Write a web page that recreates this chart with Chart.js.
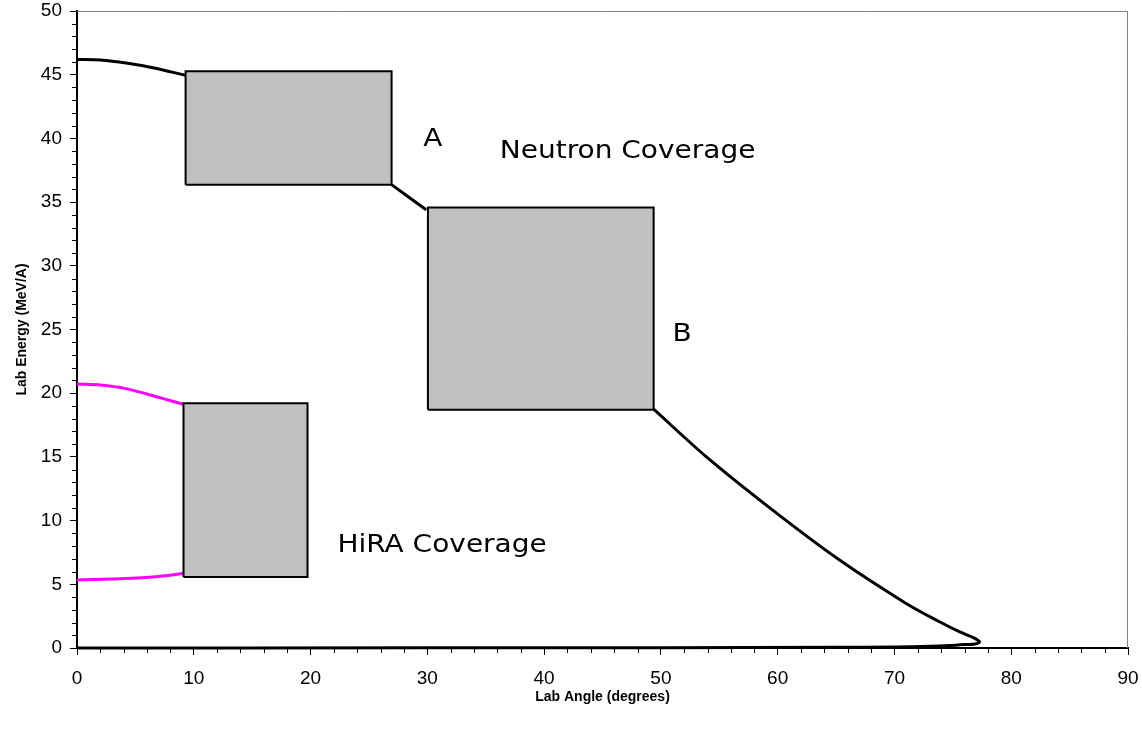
<!DOCTYPE html>
<html>
<head>
<meta charset="utf-8">
<script src="https://cdn.jsdelivr.net/npm/chart.js@4/dist/chart.umd.min.js"></script>
<style>
  html, body { margin: 0; padding: 0; background: #fff; }
  #wrap { width: 1142px; height: 730px; position: relative; }
</style>
</head>
<body>
<div id="wrap"><canvas id="kin"></canvas></div>
<script>
// neutron kinematic line (lab angle in degrees, lab energy in MeV/A), split where it runs under the boxes
const neutronAngle1  = [0, 2, 4.2, 6.5, 9.3];
const neutronEnergy1 = [46.2, 46.15, 45.92, 45.55, 44.95];
const neutronAngle2  = [26.94, 29.9];
const neutronEnergy2 = [36.37, 34.4];
const neutronAngle3  = [49.38, 53.9, 59.6, 65.3, 71.0, 73.9, 75.6, 76.8, 77.3, 76.9, 75.6, 74.7, 73, 70, 65, 50, 30, 0];
const neutronEnergy3 = [18.75, 15.0, 10.8, 6.9, 3.5, 2.04, 1.26, 0.8, 0.47, 0.32, 0.25, 0.19, 0.13, 0.08, 0.05, 0.02, 0.01, 0];

// HiRA kinematic lines (magenta)
const hiraUpperAngle  = [0, 2, 4.2, 7.1, 9.1];
const hiraUpperEnergy = [20.72, 20.65, 20.36, 19.65, 19.13];
const hiraLowerAngle  = [0, 4.2, 7.0, 9.1];
const hiraLowerEnergy = [5.34, 5.45, 5.62, 5.84];

// coverage boxes [min, max]
const boxA_angle  = [9.3, 26.94];
const boxA_energy = [36.37, 45.27];
const boxB_angle  = [30.05, 49.38];
const boxB_energy = [18.71, 34.57];
const hira_angle  = [9.12, 19.74];
const hira_energy = [5.57, 19.21];

const xTicks = [0, 10, 20, 30, 40, 50, 60, 70, 80, 90];
const yTicks = [0, 5, 10, 15, 20, 25, 30, 35, 40, 45, 50];

const pts = (xs, ys) => xs.map((x, i) => ({x, y: ys[i]}));
const box = (xs, ys) => [
  {x: xs[0], y: ys[0]}, {x: xs[1], y: ys[0]}, {x: xs[1], y: ys[1]},
  {x: xs[0], y: ys[1]}, {x: xs[0], y: ys[0]}
];

const boxStyle = {
  showLine: true, fill: 'shape', backgroundColor: '#c0c0c0',
  borderColor: '#000', borderWidth: 2, pointRadius: 0, tension: 0, clip: false
};
const lineStyle = (c) => ({showLine: true, borderColor: c, borderWidth: 3, pointRadius: 0, tension: 0.3, clip: 3});

// free text labels, drawn in data coordinates
const notes = [
  {text: 'A', x: 29.65, y: 39.38},
  {text: 'Neutron Coverage', x: 36.2, y: 38.46},
  {text: 'B', x: 51.0, y: 24.1},
  {text: 'HiRA Coverage', x: 22.3, y: 7.54}
];

const decor = {
  id: 'decor',
  afterDraw(chart) {
    const {ctx, chartArea: a, scales: {x, y}} = chart;
    ctx.save();
    // thin grey frame on top and right
    ctx.strokeStyle = '#808080';
    ctx.lineWidth = 1;
    ctx.beginPath();
    ctx.moveTo(a.left, a.top + 0.5);
    ctx.lineTo(a.right - 0.5, a.top + 0.5);
    ctx.lineTo(a.right - 0.5, a.bottom);
    ctx.stroke();
    // minor ticks
    ctx.strokeStyle = '#000';
    ctx.beginPath();
    for (let v = 2; v < 90; v += 2) {
      if (v % 10 === 0) continue;
      const px = Math.round(x.getPixelForValue(v)) + 0.5;
      ctx.moveTo(px, a.bottom); ctx.lineTo(px, a.bottom + 5);
    }
    for (let v = 1; v < 50; v += 1) {
      if (v % 5 === 0) continue;
      const py = Math.round(y.getPixelForValue(v)) + 0.5;
      ctx.moveTo(a.left, py); ctx.lineTo(a.left - 5, py);
    }
    ctx.stroke();
    // annotations
    ctx.fillStyle = '#000';
    ctx.font = '25px "DejaVu Sans"';
    ctx.textBaseline = 'alphabetic';
    for (const n of notes) {
      const px = x.getPixelForValue(n.x), py = y.getPixelForValue(n.y);
      ctx.save();
      ctx.translate(px, py);
      ctx.scale(1.12, 1);
      ctx.fillText(n.text, 0, 0);
      ctx.restore();
    }
    ctx.restore();
  }
};

new Chart(document.getElementById('kin'), {
  type: 'scatter',
  data: {
    datasets: [
      {data: box(boxA_angle, boxA_energy), ...boxStyle},
      {data: box(boxB_angle, boxB_energy), ...boxStyle},
      {data: box(hira_angle, hira_energy), ...boxStyle},
      {data: pts(neutronAngle1, neutronEnergy1), ...lineStyle('#000')},
      {data: pts(neutronAngle2, neutronEnergy2), ...lineStyle('#000')},
      {data: pts(neutronAngle3, neutronEnergy3), ...lineStyle('#000')},
      {data: pts(hiraUpperAngle, hiraUpperEnergy), ...lineStyle('#ff00ff')},
      {data: pts(hiraLowerAngle, hiraLowerEnergy), ...lineStyle('#ff00ff')}
    ]
  },
  options: {
    responsive: true,
    maintainAspectRatio: false,
    animation: false,
    layout: {padding: {top: 11, right: 14, left: 0, bottom: 0}},
    plugins: {legend: {display: false}, tooltip: {enabled: false}},
    scales: {
      x: {
        type: 'linear', min: 0, max: 90,
        afterBuildTicks: s => { s.ticks = xTicks.map(v => ({value: v})); },
        afterFit: s => { s.height = 82; s.paddingRight = 0; s.paddingLeft = 0; },
        grid: {drawOnChartArea: false, tickLength: 7, tickColor: '#000'},
        border: {color: '#000', width: 2},
        ticks: {color: '#000', font: {family: 'Liberation Sans', size: 19}, padding: 12, maxRotation: 0},
        title: {display: true, text: 'Lab Angle (degrees)', color: '#000',
                font: {family: 'Liberation Sans', size: 14, weight: 'bold'}, padding: {top: 0, bottom: 24}}
      },
      y: {
        type: 'linear', min: 0, max: 50,
        afterBuildTicks: s => { s.ticks = yTicks.map(v => ({value: v})); },
        afterFit: s => { s.width = 77; s.paddingTop = 0; s.paddingBottom = 0; },
        grid: {drawOnChartArea: false, tickLength: 7, tickColor: '#000'},
        border: {color: '#000', width: 2},
        ticks: {color: '#000', font: {family: 'Liberation Sans', size: 19}, padding: 8},
        title: {display: true, text: 'Lab Energy (MeV/A)', color: '#000',
                font: {family: 'Liberation Sans', size: 14, weight: 'bold'}, padding: {top: 14, bottom: 0}}
      }
    }
  },
  plugins: [decor]
});
</script>
</body>
</html>
